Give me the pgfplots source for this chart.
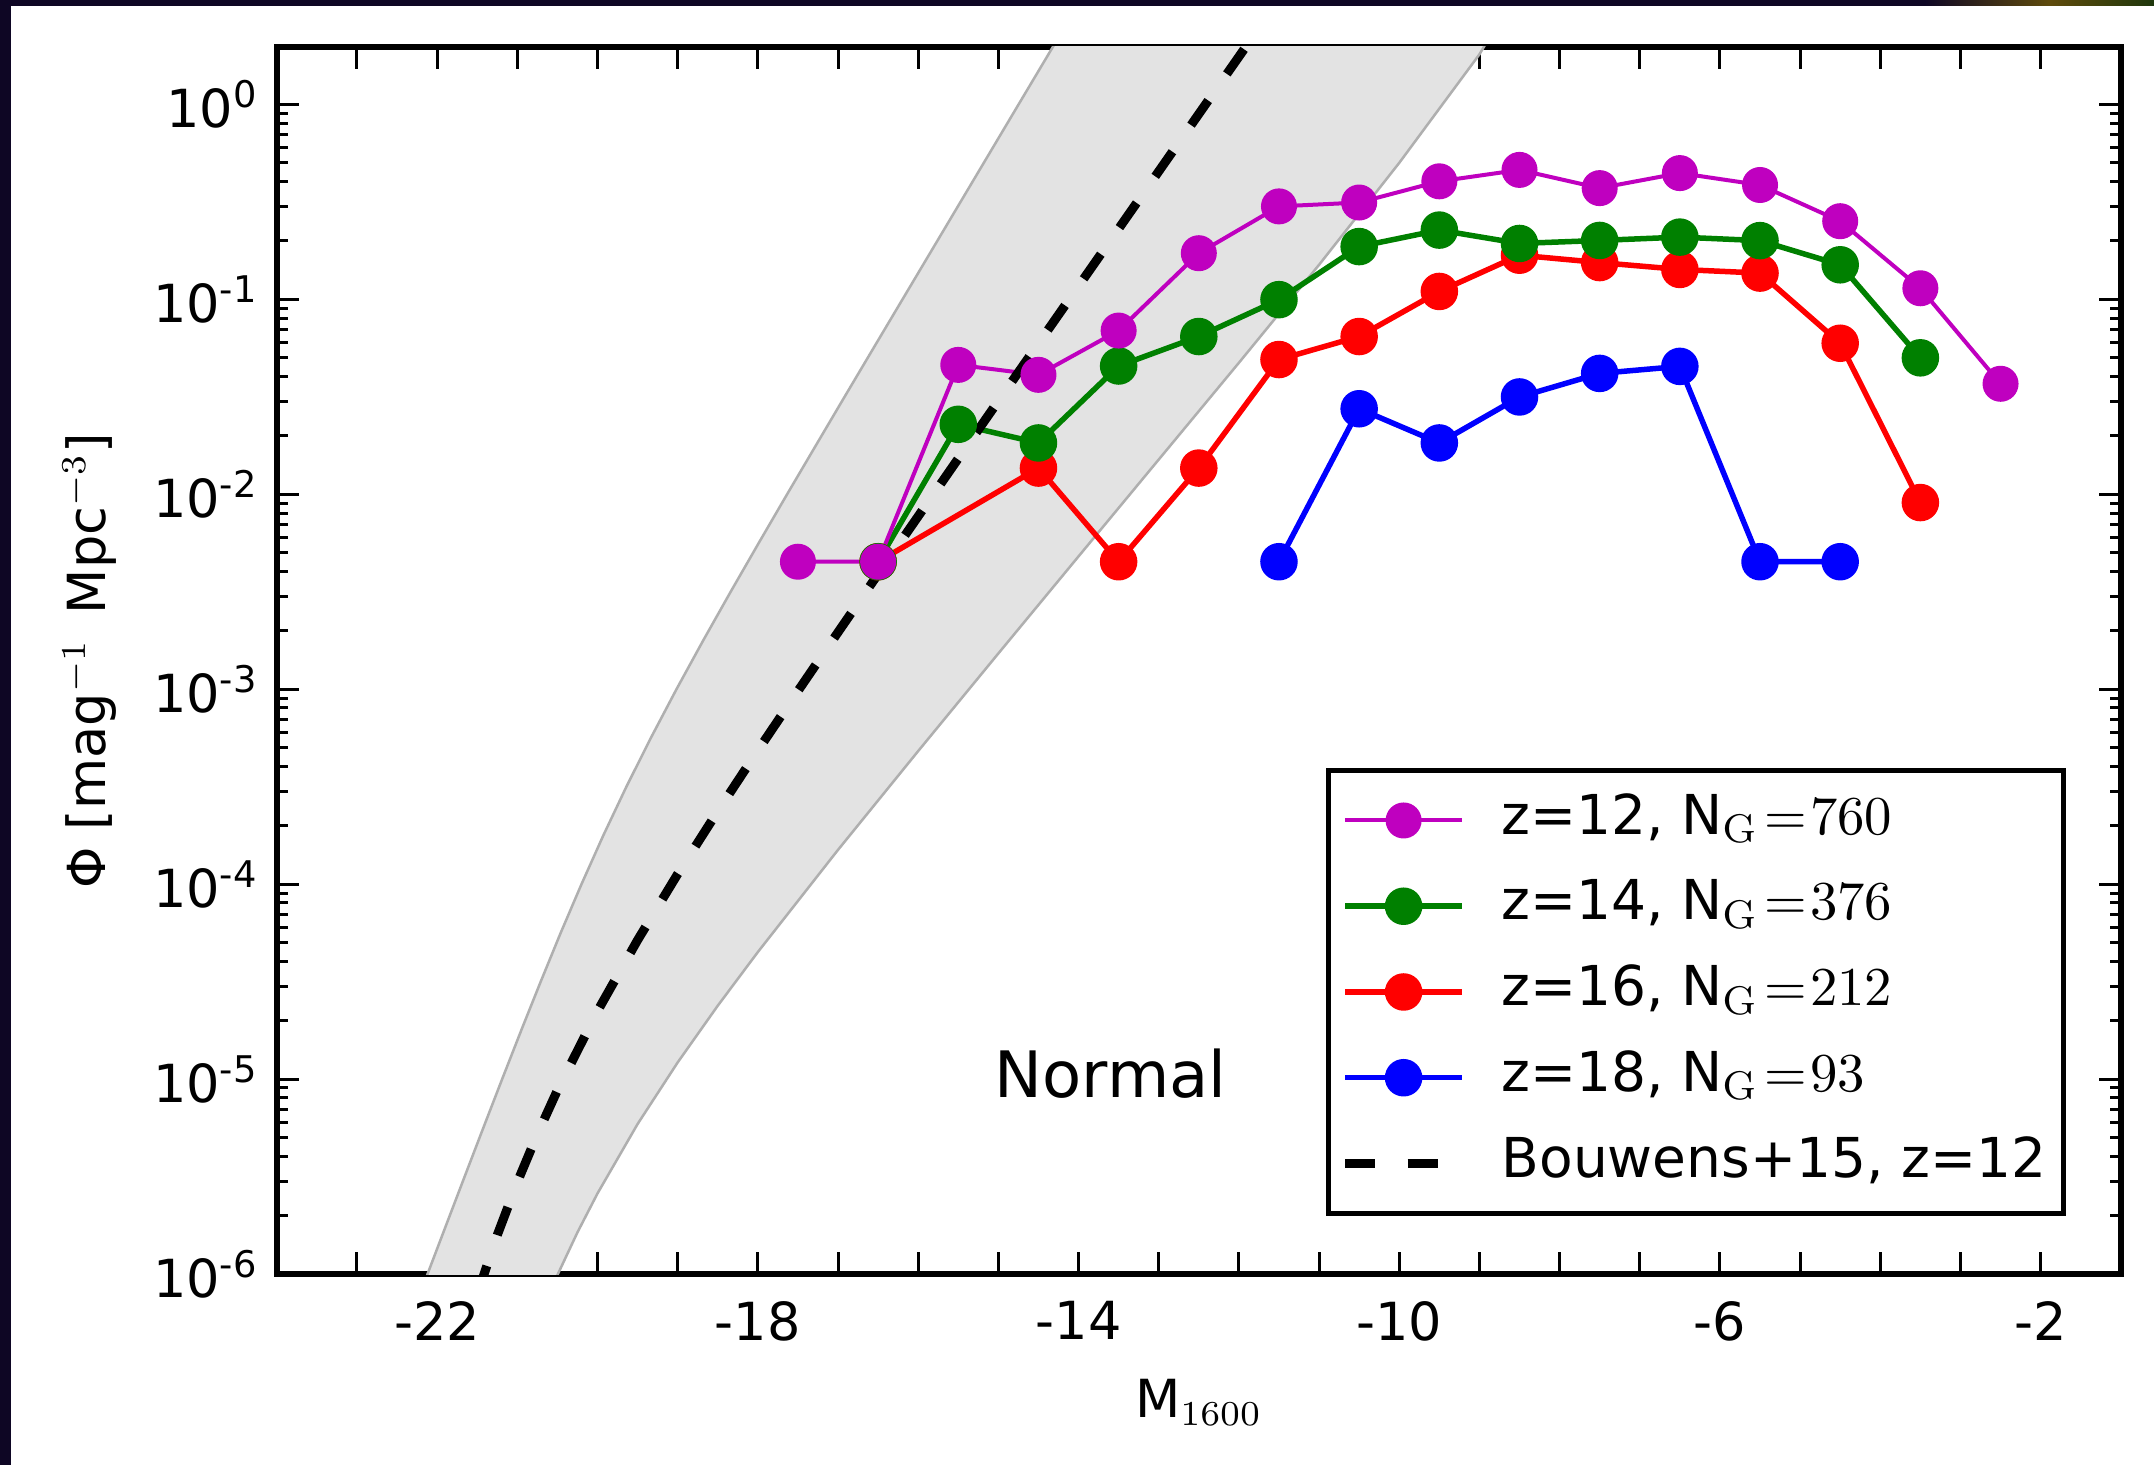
\documentclass[border=0pt]{standalone}
\usepackage[no-math]{fontspec}
\setmainfont{DejaVu Sans}
\usepackage{pgfplots}
\pgfplotsset{compat=1.18}

\definecolor{mplmagenta}{rgb}{0.75,0,0.75}
\definecolor{mplgreen}{rgb}{0,0.5,0}
\definecolor{mplred}{rgb}{1,0,0}
\definecolor{mplblue}{rgb}{0,0,1}
\definecolor{slide}{RGB}{14,6,36}
\definecolor{slideolive}{RGB}{95,75,12}
\definecolor{slidegreen}{RGB}{30,55,12}
\definecolor{bandfill}{RGB}{227,227,227}
\definecolor{bandedge}{RGB}{175,175,175}

\pgfplotsset{
  lfpoint/.style={line width=#1, mark=*, mark size=3.2pt,
    mark options={draw=black, line width=0.6pt, solid}},
}
\newcommand{\ngal}[1]{N$_\mathrm{G}\mkern2mu{=}\mkern1mu#1$}

\begin{document}
\begin{tikzpicture}
\useasboundingbox (0,0) rectangle (430.8pt,293pt);
\fill[slide] (0,0) rectangle (430.8pt,293pt);
\shade[left color=slide, right color=slideolive] (385pt,291.8pt) rectangle (410pt,293pt);
\shade[left color=slideolive, right color=slidegreen] (410pt,291.8pt) rectangle (430.8pt,293pt);
\fill[white] (2.2pt,0) rectangle (430.8pt,291.8pt);

\begin{axis}[
  at={(55.36pt,38.2pt)}, anchor=south west,
  scale only axis, width=368.8pt, height=245.5pt,
  ymode=log,
  xmin=-24, xmax=-1, ymin=1e-6, ymax=1.975,
  axis line style={line width=1.2pt},
  tick align=inside,
  xtick pos=both, ytick pos=both,
  xticklabel pos=lower, yticklabel pos=left,
  xtick={-24,-23,...,-1},
  xticklabels={,,-22,,,,-18,,,,-14,,,,-10,,,,-6,,,,-2,},
  ytick={1e-6,1e-5,1e-4,1e-3,1e-2,1e-1,1},
  yticklabels={10\textsuperscript{-6},10\textsuperscript{-5},10\textsuperscript{-4},
    10\textsuperscript{-3},10\textsuperscript{-2},10\textsuperscript{-1},10\textsuperscript{0}},
  minor ytick={2e-6,3e-6,4e-6,5e-6,6e-6,7e-6,8e-6,9e-6,
    2e-5,3e-5,4e-5,5e-5,6e-5,7e-5,8e-5,9e-5,
    2e-4,3e-4,4e-4,5e-4,6e-4,7e-4,8e-4,9e-4,
    2e-3,3e-3,4e-3,5e-3,6e-3,7e-3,8e-3,9e-3,
    2e-2,3e-2,4e-2,5e-2,6e-2,7e-2,8e-2,9e-2,
    0.2,0.3,0.4,0.5,0.6,0.7,0.8,0.9},
  major tick length=4.4pt, minor tick length=2.2pt,
  tick style={black, line width=0.6pt},
  tick label style={font=\fontsize{10.5}{12}\selectfont},
  xticklabel style={yshift=-2pt},
  xlabel={M$_{1600}$},
  ylabel={Φ [mag$^{-1}$\hspace{5pt}Mpc$^{-3}$]},
  xlabel style={at={(axis description cs:0.5,-0.1169)}, anchor=base,
    font=\fontsize{10.5}{12}\selectfont},
  ylabel style={at={(axis description cs:-0.1017,0.5)}, anchor=center,
    font=\fontsize{10.5}{12}\selectfont},
  legend style={at={(0.9701,0.0475)}, anchor=south east,
    draw=black, line width=1pt,
    font=\fontsize{11}{13}\selectfont,
    inner xsep=2.4pt, inner ysep=3.7pt, row sep=4.65pt,
    nodes={inner sep=1pt, text height=8pt, text depth=2.5pt},
    /tikz/every odd column/.append style={column sep=6pt}},
  legend cell align=left,
  legend image code/.code={\draw[mark repeat=2,mark phase=2]
    plot coordinates {(0pt,0pt) (11.7pt,0pt) (23.4pt,0pt)};},
]

% uncertainty band of the Bouwens+15 z=12 luminosity function:
% bright-side edge from bottom to top, then faint-side edge back down
\addplot[draw=bandedge, line width=0.5pt, fill=bandfill, forget plot] coordinates {
  (-22.397,5.012e-7) (-22.12,1e-6) (-21.889,1.778e-6) (-21.657,3.162e-6)
  (-21.424,5.623e-6) (-21.189,1e-5) (-20.951,1.778e-5) (-20.708,3.162e-5)
  (-20.459,5.623e-5) (-20.199,1e-4) (-19.927,1.778e-4) (-19.639,3.162e-4)
  (-19.334,5.623e-4) (-19.014,1e-3) (-18.681,1.778e-3) (-18.338,3.162e-3)
  (-17.988,5.623e-3) (-17.634,1e-2) (-17.276,1.778e-2) (-16.917,3.162e-2)
  (-16.556,5.623e-2) (-16.194,0.1) (-15.470,0.3162) (-14.746,1)
  (-14.021,3.162)
  (-8.5,4.0) (-9.0,1.80) (-10.0,0.50) (-11.0,0.150) (-12.0,4.716e-2)
  (-13.0,1.504e-2) (-14.0,4.794e-3) (-15.0,1.524e-3) (-16.0,4.812e-4)
  (-17.0,1.498e-4) (-18.0,4.482e-5) (-18.5,2.378e-5) (-19.0,1.217e-5)
  (-19.5,5.88e-6) (-20.0,2.591e-6) (-20.25,1.636e-6) (-20.5,9.88e-7)
  (-20.7,6.34e-7)
} -- cycle;

% z=18
\addplot[mplblue, lfpoint=1.1pt, mark options={fill=mplblue}, forget plot] coordinates {
  (-11.5,4.5e-3) (-10.5,0.0274) (-9.5,0.0183) (-8.5,0.0315)
  (-7.5,0.0416) (-6.5,0.0452) (-5.5,4.5e-3) (-4.5,4.5e-3)
};
% z=16
\addplot[mplred, lfpoint=1.1pt, mark options={fill=mplred}, forget plot] coordinates {
  (-16.5,4.5e-3) (-14.5,0.0136) (-13.5,4.5e-3) (-12.5,0.0136)
  (-11.5,0.049) (-10.5,0.0643) (-9.5,0.1095) (-8.5,0.168)
  (-7.5,0.154) (-6.5,0.142) (-5.5,0.136) (-4.5,0.0594) (-3.5,0.00905)
};
% z=14
\addplot[mplgreen, lfpoint=1.1pt, mark options={fill=mplgreen}, forget plot] coordinates {
  (-16.5,4.5e-3) (-15.5,0.0228) (-14.5,0.0183) (-13.5,0.0454)
  (-12.5,0.0643) (-11.5,0.0994) (-10.5,0.186) (-9.5,0.226)
  (-8.5,0.193) (-7.5,0.200) (-6.5,0.208) (-5.5,0.1996)
  (-4.5,0.150) (-3.5,0.0500)
};
% z=12
\addplot[mplmagenta, lfpoint=0.8pt, mark options={fill=mplmagenta}, forget plot] coordinates {
  (-17.5,4.5e-3) (-16.5,4.5e-3) (-15.5,0.046) (-14.5,0.0409)
  (-13.5,0.069) (-12.5,0.172) (-11.5,0.299) (-10.5,0.313)
  (-9.5,0.402) (-8.5,0.46) (-7.5,0.371) (-6.5,0.443)
  (-5.5,0.385) (-4.5,0.251) (-3.5,0.1137) (-2.5,0.0368)
};
% Bouwens+15 Schechter function at z=12
\addplot[black, line width=1.8pt, dash pattern=on 6pt off 6.5pt, forget plot] coordinates {
  (-21.5,7.87e-7) (-21.25,1.585e-6) (-21.0,2.96e-6) (-20.75,5.21e-6)
  (-20.5,8.76e-6) (-20.0,2.231e-5) (-19.5,5.16e-5) (-19.0,1.126e-4)
  (-18.5,2.363e-4) (-18.0,4.846e-4) (-17.5,9.78e-4) (-17.0,1.957e-3)
  (-16.5,3.891e-3) (-16.0,7.70e-3) (-15.5,1.523e-2) (-15.0,3.004e-2)
  (-14.5,5.922e-2) (-14.0,0.1167) (-13.5,0.2297) (-13.0,0.4521)
  (-12.5,0.8903) (-12.0,1.752) (-11.5,3.45)
};

\addlegendimage{mplmagenta, lfpoint=0.8pt, mark options={fill=mplmagenta}}
\addlegendentry{z=12, \ngal{760}}
\addlegendimage{mplgreen, lfpoint=1.1pt, mark options={fill=mplgreen}}
\addlegendentry{z=14, \ngal{376}}
\addlegendimage{mplred, lfpoint=1.1pt, mark options={fill=mplred}}
\addlegendentry{z=16, \ngal{212}}
\addlegendimage{mplblue, lfpoint=1.1pt, mark options={fill=mplblue}}
\addlegendentry{z=18, \ngal{93}}
\addlegendimage{black, line width=1.8pt, dash pattern=on 6pt off 6.5pt}
\addlegendentry{Bouwens+15, z=12}

\node[font=\fontsize{12.8}{15}\selectfont] at (axis cs:-13.6,1.06e-5) {Normal};
\end{axis}
\end{tikzpicture}
\end{document}
